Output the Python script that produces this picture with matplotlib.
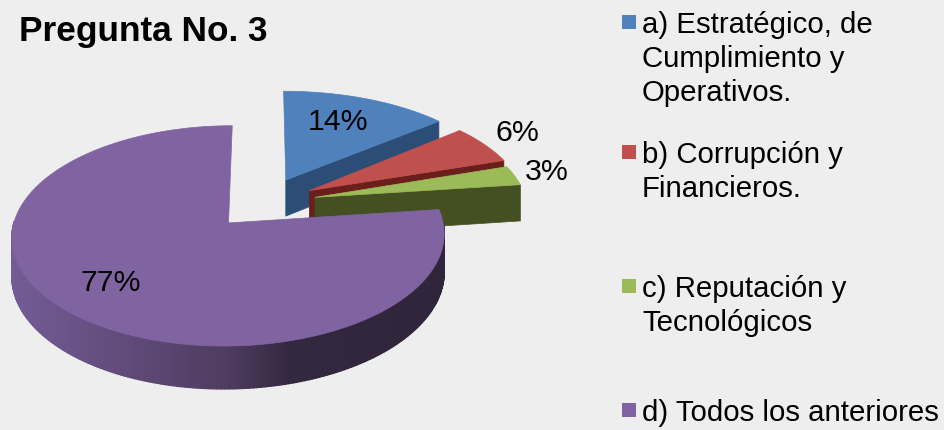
import matplotlib
matplotlib.use("Agg")
import matplotlib.pyplot as plt
from matplotlib.patches import Polygon, Rectangle
import numpy as np

plt.rcParams["font.family"] = ["Liberation Sans", "DejaVu Sans"]

title = "Pregunta No. 3"
categories = ["a) Estratégico, de\nCumplimiento y\nOperativos.",
              "b) Corrupción y\nFinancieros.",
              "c) Reputación y\nTecnológicos",
              "d) Todos los anteriores"]
values = [14, 6, 3, 77]
colors = ["#4f81bd", "#c0504d", "#9bbb59", "#8064a2"]
wall_colors = ["#2c4d75", "#6b1f1d", "#444f22", "#4e3c60"]

# perspective set up for the fake 3d pie
cx, cy = 264, 203
rx, ry = 210, 104
persp = 0.115
depth = 37
explode = 0.25
stretch = [1.05, 1.03, 1.01, 1.0]  # back slices come out a bit wider in the original
bg = "#eeeeee"


def project(u, v, z=0.0):
    w = 1 + persp * v
    return cx + rx * u / w, cy - ry * v / w + z * depth / w


def purple_shade(x):
    # outer wall gets darker going left to right
    return [np.interp(x, [10, 230, 290, 450], [a, b, c, d]) / 255
            for a, b, c, d in [(116, 78, 52, 48), (92, 60, 40, 36), (150, 96, 64, 58)]]


fig = plt.figure(figsize=(9.45, 4.3), dpi=100, facecolor=bg)
ax = fig.add_axes([0, 0, 1, 1])
ax.set_xlim(0, 945)
ax.set_ylim(430, 0)
ax.axis("off")

edges = np.cumsum([0] + values) / sum(values) * 2 * np.pi
for i in range(len(values)):
    t0, t1 = edges[i], edges[i + 1]
    mid = (t0 + t1) / 2
    au, av = explode * np.sin(mid), explode * np.cos(mid)
    ts = np.linspace(t0, t1, max(int((t1 - t0) * 60), 8))
    us, vs = au + stretch[i] * np.sin(ts), av + np.cos(ts)

    # only the front rim of the big slice shows, the small ones just show the trailing wall
    if i == 3:
        for k in range(len(ts) - 1):
            if vs[k] > av and vs[k + 1] > av:
                continue
            quad = [project(us[k], vs[k]), project(us[k + 1], vs[k + 1]),
                    project(us[k + 1], vs[k + 1], 1), project(us[k], vs[k], 1)]
            c = purple_shade(quad[0][0])
            ax.add_patch(Polygon(quad, closed=True, fc=c, ec=c, lw=1.0, joinstyle="round",
                                 zorder=i * 3 + 1))
    else:
        quad = [project(au, av), project(us[-1], vs[-1]), project(us[-1], vs[-1], 1), project(au, av, 1)]
        ax.add_patch(Polygon(quad, closed=True, fc=wall_colors[i], ec=wall_colors[i],
                             lw=0.5, zorder=i * 3 + 1))

    top = [project(au, av)] + [project(u, v) for u, v in zip(us, vs)]
    ax.add_patch(Polygon(top, closed=True, fc=colors[i], ec=colors[i], lw=0.5, zorder=i * 3 + 2))

label_pos = [(338, 122), (517, 133), (547, 172), (111, 283)]
for v, (x, y) in zip(values, label_pos):
    ax.text(x, y, f"{v}%", fontsize=21.8, ha="center", va="center", color="black", zorder=20)

ax.text(19, 31, title, fontsize=25.4, fontweight="bold", ha="left", va="center", color="black")

legend_y = [12, 142, 276, 400]
for y, lab, c in zip(legend_y, categories, colors):
    ax.add_patch(Rectangle((622, y + 3), 14, 14, fc=c, ec="none"))
    ax.text(642, y - 1, lab, fontsize=21.2, ha="left", va="top", linespacing=1.28, color="black")

fig.savefig("out.png", dpi=100, facecolor=bg)
